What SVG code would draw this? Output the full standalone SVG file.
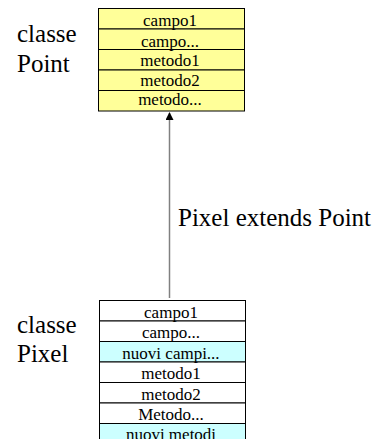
<svg xmlns="http://www.w3.org/2000/svg" width="377" height="439" viewBox="0 0 377 439" font-family="Liberation Serif">
<style>
.lbl{font-size:25px}
.cell{font-size:17px;text-anchor:middle}
.y{fill:#FFFF99;stroke:#000;stroke-width:1}
.w{fill:#FFFFFF;stroke:#000;stroke-width:1}
.c{fill:#CCFFFF;stroke:#000;stroke-width:1}
</style>
<defs>
<marker id="ah" markerWidth="8" markerHeight="8" refX="7" refY="4" orient="auto" markerUnits="userSpaceOnUse">
<path d="M0,0 L8,4 L0,8 Z" fill="#000"/>
</marker>
</defs>
<rect width="377" height="439" fill="#fff"/>
<g id="labels" font-family="Liberation Serif" font-size="25">
<text class="lbl" x="17" y="42">classe</text>
<text class="lbl" x="17" y="72">Point</text>
<text class="lbl" x="17" y="333">classe</text>
<text class="lbl" x="17" y="362">Pixel</text>
</g>
<g id="point" font-family="Liberation Serif" font-size="17" text-anchor="middle">
<rect class="y" x="98.5" y="8.5" width="146" height="20.5"/>
<rect class="y" x="98.5" y="29" width="146" height="20.5"/>
<rect class="y" x="98.5" y="49.5" width="146" height="20.5"/>
<rect class="y" x="98.5" y="70" width="146" height="20.5"/>
<rect class="y" x="98.5" y="90.5" width="146" height="20.5"/>
<text class="cell" x="170" y="26">campo1</text>
<text class="cell" x="170" y="47">campo...</text>
<text class="cell" x="170" y="66">metodo1</text>
<text class="cell" x="170" y="86">metodo2</text>
<text class="cell" x="170" y="105">metodo...</text>
</g>
<g id="pixel" font-family="Liberation Serif" font-size="17" text-anchor="middle">
<rect class="w" x="99.5" y="300.5" width="146" height="20.5"/>
<rect class="w" x="99.5" y="321" width="146" height="20.5"/>
<rect class="c" x="99.5" y="341.5" width="146" height="20.5"/>
<rect class="w" x="99.5" y="362" width="146" height="20.5"/>
<rect class="w" x="99.5" y="382.5" width="146" height="20.5"/>
<rect class="w" x="99.5" y="403" width="146" height="20.5"/>
<rect class="c" x="99.5" y="423.5" width="146" height="20.5"/>
<text class="cell" x="171" y="318">campo1</text>
<text class="cell" x="171" y="338">campo...</text>
<text class="cell" x="171" y="359">nuovi campi...</text>
<text class="cell" x="171" y="379">metodo1</text>
<text class="cell" x="171" y="400">metodo2</text>
<text class="cell" x="171" y="420">Metodo...</text>
<text class="cell" x="171" y="440">nuovi metodi</text>
</g>
<g id="connectors">
<line x1="169.5" y1="298" x2="169.5" y2="113" stroke="#808080" stroke-width="1.5" marker-end="url(#ah)"/>
<text class="lbl" x="178" y="226" font-family="Liberation Serif" font-size="25">Pixel extends Point</text>
</g>
</svg>
